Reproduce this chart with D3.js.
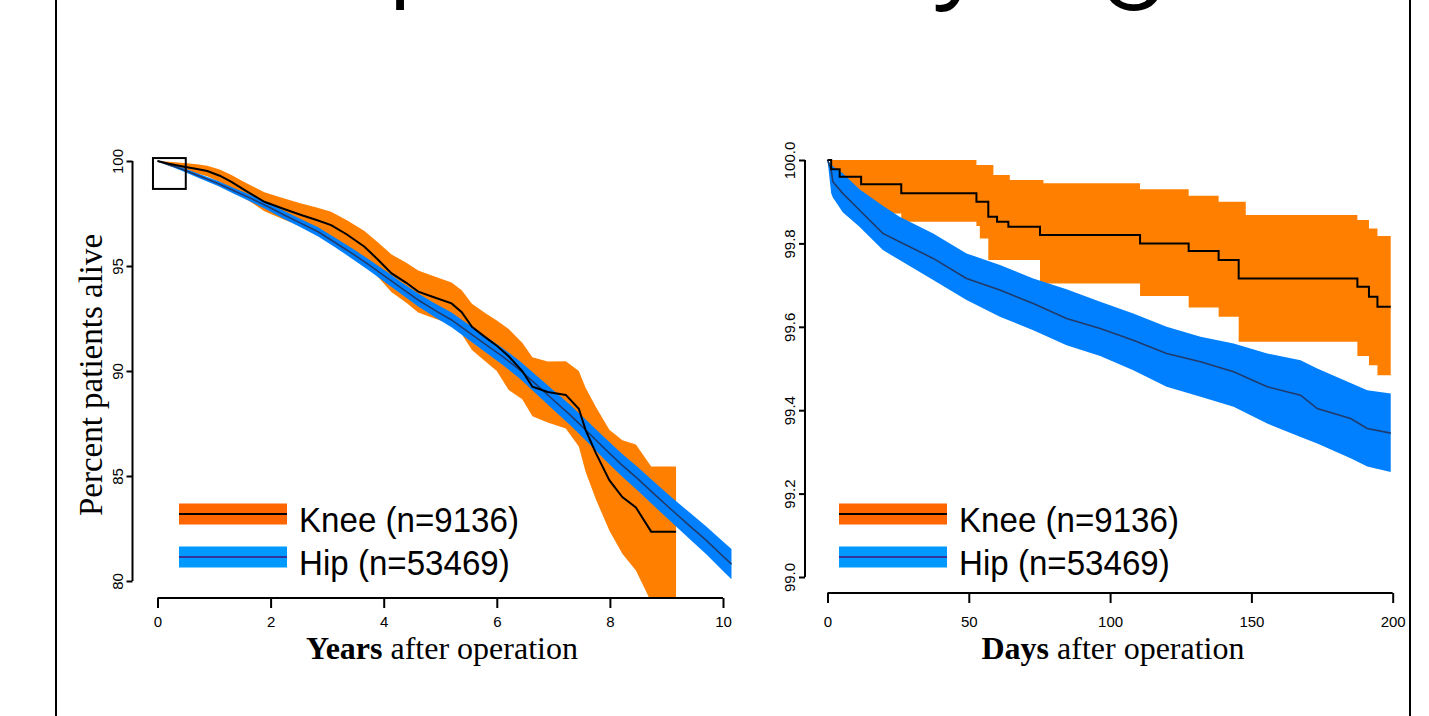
<!DOCTYPE html>
<html><head><meta charset="utf-8">
<script src="https://cdn.jsdelivr.net/npm/d3@7"></script>
<style>body{margin:0;background:#fff}svg{display:block}</style>
</head><body>
<svg id="c" width="1429" height="716"></svg>
<script>
// ---------- text ----------
const titleText = "Comparison by age";
const yTitle = "Percent patients alive";
const legendLabels = ["Knee (n=9136)", "Hip (n=53469)"];
const xTitleBold = ["Years", "Days"];
const xTitleRest = " after operation";

// ---------- left panel: years ----------
const yearTicks = [0, 2, 4, 6, 8, 10];
const pctTicks = [80, 85, 90, 95, 100];
const kneeYrT  = [0,0.2,0.47,0.7,0.88,1.1,1.3,1.55,1.89,2.2,2.54,2.8,3.07,3.35,3.66,3.9,4.14,4.4,4.61,4.9,5.2,5.38,5.56,5.8,6.0,6.21,6.45,6.63,6.9,7.22,7.45,7.57,7.75,7.99,8.22,8.46,8.73,9.17];
const kneeYrS  = [100,99.87,99.73,99.62,99.52,99.3,99.02,98.6,98.06,97.75,97.43,97.2,96.95,96.5,95.92,95.3,94.65,94.2,93.78,93.5,93.22,92.8,92.1,91.6,91.2,90.7,90.0,89.25,89.0,88.86,88.2,87.2,86.1,84.8,84.0,83.5,82.35,82.35];
const kneeYrUp = [100,99.97,99.9,99.84,99.77,99.6,99.35,98.98,98.51,98.25,97.98,97.8,97.58,97.18,96.67,96.12,95.55,95.15,94.78,94.5,94.22,93.85,93.2,92.75,92.4,92.0,91.35,90.65,90.45,90.46,90.0,89.2,88.3,87.2,86.7,86.5,85.45,85.45];
const kneeYrLo = [100,99.77,99.56,99.4,99.27,99.0,98.69,98.22,97.61,97.25,96.88,96.6,96.32,95.82,95.17,94.48,93.75,93.25,92.78,92.5,92.22,91.75,91.0,90.45,90.0,89.1,88.65,87.85,87.55,87.26,86.4,85.2,83.9,82.4,81.3,80.5,79.0,79.0];
const hipYrT  = [0,0.25,0.47,0.75,1.06,1.35,1.65,1.95,2.24,2.54,2.84,3.14,3.44,3.74,4.03,4.32,4.61,4.9,5.2,5.5,5.8,6.1,6.4,6.7,7.0,7.3,7.6,7.9,8.2,8.5,8.8,9.1,9.4,9.7,10.0,10.15];
const hipYrS  = [100,99.78,99.57,99.27,98.94,98.58,98.22,97.83,97.43,97.03,96.63,96.12,95.6,95.05,94.49,93.93,93.38,92.9,92.43,91.85,91.27,90.7,90.07,89.35,88.62,87.9,87.12,86.32,85.55,84.85,84.1,83.37,82.65,81.95,81.18,80.8];
const hipYrUp = [100,99.83,99.65,99.37,99.06,98.72,98.38,98.0,97.62,97.23,96.85,96.35,95.85,95.31,94.77,94.22,93.69,93.23,92.78,92.21,91.65,91.1,90.49,89.79,89.08,88.38,87.62,86.84,86.09,85.41,84.68,83.97,83.28,82.61,81.88,81.52];
const hipYrLo = [100,99.73,99.49,99.17,98.82,98.44,98.06,97.66,97.24,96.83,96.41,95.89,95.35,94.79,94.21,93.64,93.07,92.57,92.08,91.49,90.89,90.3,89.65,88.91,88.16,87.42,86.62,85.8,85.01,84.29,83.52,82.77,82.02,81.29,80.48,80.08];
const zoomBoxT = [-0.08, 0.5];
const zoomBoxV = [98.67, 100.14];

// ---------- right panel: days ----------
const dayTicks = [0, 50, 100, 150, 200];
const pctFineTicks = [99.0, 99.2, 99.4, 99.6, 99.8, 100.0];
const kneeDayT  = [0,1.3,4.3,11.9,20,26.1,52.7,53.9,56.9,58.7,60,64,64.5,75.2,76.4,110.6,127.8,138.4,145.5,148,187.5,191.6,194.6,199.3];
const kneeDayS  = [100,99.978,99.96,99.942,99.942,99.92,99.90,99.90,99.864,99.864,99.852,99.84,99.84,99.82,99.82,99.80,99.782,99.76,99.716,99.716,99.696,99.672,99.648,99.648];
const kneeDayUp = [100,100,100,100,100,100,99.988,99.988,99.988,99.964,99.964,99.964,99.952,99.952,99.944,99.93,99.914,99.90,99.90,99.868,99.856,99.836,99.818,99.818];
const kneeDayLo = [100,99.944,99.91,99.885,99.872,99.852,99.842,99.812,99.76,99.76,99.76,99.76,99.76,99.704,99.704,99.674,99.646,99.624,99.564,99.564,99.53,99.508,99.484,99.484];
const hipDayT  = [0,1.3,1.9,5.4,11.3,19.6,25.5,37.4,49.2,61,72.8,84.6,96.5,108.2,120,132,143.7,155.6,167.4,173.3,185.1,191,199.3];
const hipDayS  = [100,99.976,99.948,99.92,99.88,99.824,99.804,99.764,99.716,99.688,99.656,99.62,99.596,99.568,99.536,99.516,99.492,99.456,99.436,99.404,99.38,99.356,99.345];
const hipDayUp = [100,99.99,99.985,99.968,99.93,99.89,99.864,99.824,99.776,99.748,99.716,99.69,99.66,99.632,99.6,99.576,99.56,99.536,99.52,99.50,99.465,99.448,99.44];
const hipDayLo = [100,99.92,99.91,99.875,99.84,99.784,99.76,99.712,99.664,99.624,99.592,99.556,99.53,99.496,99.456,99.432,99.408,99.368,99.336,99.32,99.285,99.265,99.252];

// ---------- colours ----------
const kneeBand = "#FF8000", hipBand = "#0080FF";
const kneeLine = "#000000", hipLine = "#1F3A6B";
const kneeLegBand = "#FF6600", hipLegBand = "#0099FF", hipLegLine = "#333399";

const svg = d3.select("#c");
const SANS = "'Liberation Sans', Arial, sans-serif";
const SERIF = "'Liberation Serif', 'Times New Roman', serif";
const TITLEFONT = "Roboto, 'Open Sans', sans-serif";

// frame lines
[56, 1410].forEach(x => svg.append("line").attr("x1", x).attr("x2", x).attr("y1", 0).attr("y2", 716)
  .attr("stroke", "#000").attr("stroke-width", 2));

// title (mostly above the visible area; only descenders show)
const title = svg.append("text").text(titleText).attr("font-family", TITLEFONT).attr("font-weight", 300)
  .attr("font-size", 100).attr("x", 0).attr("y", 0).attr("fill", "#000");
{
  const node = title.node();
  const ip = titleText.indexOf("p"), ig = titleText.lastIndexOf("g");
  const sp = node.getStartPositionOfChar(ip).x, sg = node.getStartPositionOfChar(ig).x;
  const fs = 100 * (1098 - 386) / (sg - sp);
  title.attr("font-size", fs);
  const sp2 = node.getStartPositionOfChar(ip).x;
  const ctx = document.createElement("canvas").getContext("2d");
  ctx.font = `300 ${fs}px ${TITLEFONT}`;
  const desc = ctx.measureText("p").actualBoundingBoxDescent || 0.21 * fs;
  title.attr("x", 386 - sp2).attr("y", 10 - desc);
}

function zip(t, s) { return t.map((d, i) => [d, s[i]]); }
function bandData(t, lo, up) { return t.map((d, i) => ({ t: d, lo: lo[i], up: up[i] })); }

function panel(cfg) {
  const { x, y, clipId, clip } = cfg;
  svg.append("clipPath").attr("id", clipId).append("rect")
    .attr("x", clip[0]).attr("y", clip[1]).attr("width", clip[2]).attr("height", clip[3]);
  const g = svg.append("g").attr("clip-path", `url(#${clipId})`);
  const area = (curve) => d3.area().x(d => x(d.t)).y0(d => y(d.lo)).y1(d => y(d.up)).curve(curve);
  const line = (curve) => d3.line().x(d => x(d[0])).y(d => y(d[1])).curve(curve);
  g.append("path").attr("d", area(cfg.kneeCurve)(bandData(cfg.kneeT, cfg.kneeLo, cfg.kneeUp))).attr("fill", kneeBand);
  g.append("path").attr("d", area(cfg.hipCurve)(bandData(cfg.hipT, cfg.hipLo, cfg.hipUp))).attr("fill", hipBand);
  g.append("path").attr("d", line(cfg.hipCurve)(zip(cfg.hipT, cfg.hipS))).attr("fill", "none")
    .attr("stroke", hipLine).attr("stroke-width", 1.6);
  g.append("path").attr("d", line(cfg.kneeCurve)(zip(cfg.kneeT, cfg.kneeS))).attr("fill", "none")
    .attr("stroke", kneeLine).attr("stroke-width", 2);

  // x axis
  const xa = svg.append("g").attr("transform", `translate(0,${cfg.xAxisY})`)
    .call(d3.axisBottom(x).tickValues(cfg.xTicks).tickSize(10).tickSizeOuter(0).tickFormat(d3.format("d")));
  xa.select(".domain").attr("stroke-width", 2).attr("d", `M${x.range()[0]},0H${x.range()[1]}`);
  xa.selectAll(".tick line").attr("stroke-width", 2);
  xa.selectAll(".tick text").attr("font-family", SANS).attr("font-size", 15).attr("y", cfg.xLabelDy).attr("dy", 0);

  // y axis
  const ya = svg.append("g").attr("transform", `translate(${cfg.yAxisX},0)`)
    .call(d3.axisLeft(y).tickValues(cfg.yTicks).tickSize(6).tickSizeOuter(0).tickFormat(cfg.yFmt));
  ya.select(".domain").attr("stroke-width", 2).attr("d", `M0,${y.range()[0]}V${y.range()[1]}`);
  ya.selectAll(".tick line").attr("stroke-width", 2);
  ya.selectAll(".tick text").attr("font-family", SANS).attr("font-size", 15)
    .attr("transform", "rotate(-90)").attr("x", 0).attr("y", -10).attr("dy", 0).attr("text-anchor", "middle");

  // x title
  const xt = svg.append("text").attr("font-family", SERIF).attr("font-size", 32)
    .attr("x", cfg.xTitleX).attr("y", 659).attr("text-anchor", "middle").attr("fill", "#000");
  xt.append("tspan").attr("font-weight", "bold").text(cfg.boldWord);
  xt.append("tspan").text(xTitleRest);

  // legend
  const lg = svg.append("g");
  const rows = [
    { y: 503.5, band: kneeLegBand, line: "#000", label: legendLabels[0], base: 531.5 },
    { y: 546.5, band: hipLegBand, line: hipLegLine, label: legendLabels[1], base: 574.5 }
  ];
  rows.forEach(r => {
    lg.append("rect").attr("x", cfg.legX).attr("y", r.y).attr("width", 108).attr("height", 21).attr("fill", r.band);
    lg.append("line").attr("x1", cfg.legX).attr("x2", cfg.legX + 108).attr("y1", r.y + 10.5).attr("y2", r.y + 10.5)
      .attr("stroke", r.line).attr("stroke-width", 2.2);
    lg.append("text").attr("font-family", SANS).attr("font-size", 36).attr("fill", "#000")
      .attr("transform", `translate(${cfg.legX + 120},${r.base}) scale(0.92,1)`).text(r.label);
  });
}

const xL = d3.scaleLinear([0, 10], [157.5, 723]);
const yL = d3.scaleLinear([80, 100], [581, 161]);
panel({
  x: xL, y: yL, clipId: "clipL", clip: [133, 130, 610, 467],
  kneeT: kneeYrT, kneeS: kneeYrS, kneeUp: kneeYrUp, kneeLo: kneeYrLo,
  hipT: hipYrT, hipS: hipYrS, hipUp: hipYrUp, hipLo: hipYrLo,
  kneeCurve: d3.curveLinear, hipCurve: d3.curveLinear,
  xTicks: yearTicks, yTicks: pctTicks, yFmt: d3.format("d"),
  xAxisY: 598, xLabelDy: 29, yAxisX: 132.5, xTitleX: 442, boldWord: xTitleBold[0], legX: 179
});
// zoom box marking the right-hand panel's region
svg.append("rect").attr("x", xL(zoomBoxT[0])).attr("y", yL(zoomBoxV[1]))
  .attr("width", xL(zoomBoxT[1]) - xL(zoomBoxT[0])).attr("height", yL(zoomBoxV[0]) - yL(zoomBoxV[1]))
  .attr("fill", "none").attr("stroke", "#000").attr("stroke-width", 2);
// y title
svg.append("text").attr("font-family", SERIF).attr("font-size", 33).attr("fill", "#000")
  .attr("text-anchor", "middle").attr("transform", "translate(102,375) rotate(-90)").text(yTitle);

const xR = d3.scaleLinear([0, 200], [827.5, 1392.7]);
const yR = d3.scaleLinear([99, 100], [577, 160]);
panel({
  x: xR, y: yR, clipId: "clipR", clip: [806, 130, 594, 462],
  kneeT: kneeDayT, kneeS: kneeDayS, kneeUp: kneeDayUp, kneeLo: kneeDayLo,
  hipT: hipDayT, hipS: hipDayS, hipUp: hipDayUp, hipLo: hipDayLo,
  kneeCurve: d3.curveStepAfter, hipCurve: d3.curveLinear,
  xTicks: dayTicks, yTicks: pctFineTicks, yFmt: d3.format(".1f"),
  xAxisY: 593, xLabelDy: 34, yAxisX: 805, xTitleX: 1113, boldWord: xTitleBold[1], legX: 839
});
</script>
</body></html>
